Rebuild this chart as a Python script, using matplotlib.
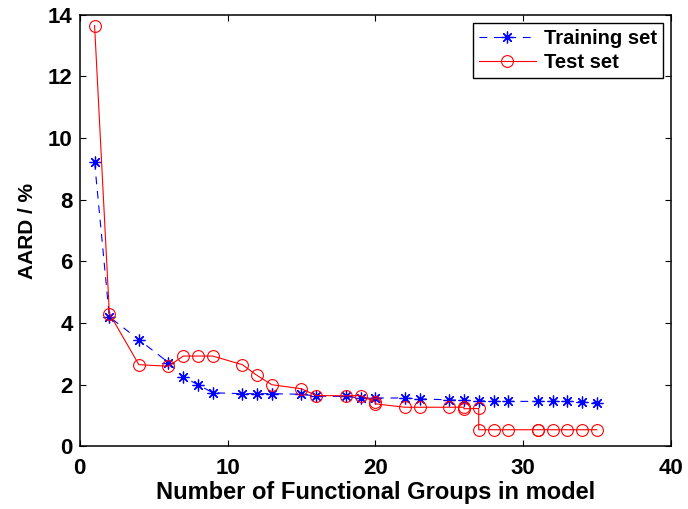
import numpy as np
import matplotlib.pyplot as plt

plt.rcParams['font.family'] = ['Liberation Sans', 'DejaVu Sans']
plt.rcParams['font.weight'] = 'bold'

# AARD of the training set vs. number of functional groups
train_n = [1, 2, 4, 6, 7, 8, 9, 11, 12, 13, 15, 16, 18, 19, 20, 22, 23,
           25, 26, 27, 28, 29, 31, 32, 33, 34, 35]
train_aard = [9.22, 4.2, 3.46, 2.72, 2.25, 2.0, 1.74, 1.71, 1.71, 1.71, 1.69,
              1.63, 1.62, 1.57, 1.57, 1.57, 1.54, 1.51, 1.49, 1.48, 1.46,
              1.46, 1.46, 1.46, 1.46, 1.45, 1.42]

# AARD of the test set
test_n = [1, 2, 4, 6, 7, 8, 9, 11, 12, 13, 15, 16, 18, 19, 20, 20, 22, 23,
          25, 26, 26, 27, 27, 28, 29, 31, 31, 32, 33, 34, 35]
test_aard = [13.65, 4.31, 2.65, 2.6, 2.93, 2.93, 2.93, 2.65, 2.3, 2.0, 1.87,
             1.65, 1.64, 1.65, 1.44, 1.38, 1.27, 1.27, 1.27, 1.27, 1.22,
             1.23, 0.54, 0.54, 0.54, 0.54, 0.54, 0.54, 0.54, 0.54, 0.54]


def plot_aard(output_file='out.png'):
    fig = plt.figure(figsize=(6.88, 5.09), dpi=100)
    ax = fig.add_axes([0.116, 0.123, 0.859, 0.848])

    # asterisk marker: 8 arms like a '+' over an 'x'
    ax.plot(train_n, train_aard, color='b', ls='--', marker=(8, 2, 0),
            lw=0.8, ms=8.5, mew=0.9, dashes=(7, 6), label='Training set')
    ax.plot(test_n, test_aard, 'r-o', lw=0.8, ms=8.5, mew=0.8,
            mfc='none', label='Test set')

    ax.set_xlim(0, 40)
    ax.set_ylim(0, 14)
    ax.set_xticks(np.arange(0, 41, 10))
    ax.set_yticks(np.arange(0, 15, 2))
    ax.tick_params(direction='in', length=4, width=0.8, top=True, right=True,
                   labelsize=16)
    ax.tick_params(axis='x', pad=8)
    ax.tick_params(axis='y', pad=5)
    for lab in ax.get_xticklabels() + ax.get_yticklabels():
        lab.set_fontweight('bold')
    for sp in ax.spines.values():
        sp.set_linewidth(1.1)

    ax.set_xlabel('Number of Functional Groups in model', fontsize=17,
                  fontweight='bold', labelpad=2)
    ax.set_ylabel('AARD / %', fontsize=15, fontweight='bold', labelpad=8)

    leg = ax.legend(loc='upper right', fontsize=14.5, handlelength=2.8,
                    fancybox=False, edgecolor='black', framealpha=1,
                    borderaxespad=0.4, borderpad=0.3, labelspacing=0.25,
                    handletextpad=0.4)
    leg.get_frame().set_linewidth(1.0)

    fig.savefig(output_file, dpi=100)


if __name__ == "__main__":
    plot_aard()
